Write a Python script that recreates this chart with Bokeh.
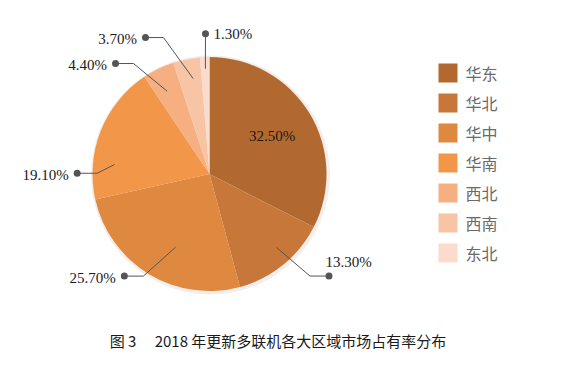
import math
from bokeh.plotting import figure
from bokeh.models import Range1d
from bokeh.core.properties import value
from bokeh.embed import file_html
from bokeh.resources import INLINE

# ---- data ----
regions = ["华东", "华北", "华中", "华南", "西北", "西南", "东北"]
shares = [32.5, 13.3, 25.7, 19.1, 4.4, 3.7, 1.3]
colors = ["#B2692F", "#C8773A", "#DF8840", "#F2974A", "#F5AF80", "#F8C4A6", "#FADBCC"]
title_text = "图 3\u3000 2018 年更新多联机各大区域市场占有率分布"

# ---- layout (image pixel geometry) ----
W, H, PAGE_H = 547, 355, 371
CX, CY_PIX, R = 209.0, 173.5, 117.0
CY = PAGE_H - CY_PIX

# per-slice leader layout: (inner angle offset, inner r factor, elbow angle offset,
#                           elbow r factor, horizontal length, label mode)
LEADER = [
    None,                                   # inside label
    (-3.3, 0.85, -5.5, 1.224, 19, "above"),
    (-6.3, 0.69, 1.8, 1.04, 19, "left"),
    (-16.1, 0.816, -21.4, 0.96, 20, "left"),
    (-1.2, 0.795, -8.6, 1.146, 18, "left"),
    (1.6, 0.828, -7.3, 1.231, 18, "left"),
    (0.1, 0.90, 0.7, 1.20, 0, "right"),
]


def polar(theta_deg, r):
    t = math.radians(theta_deg)
    return CX + r * math.sin(t), CY + r * math.cos(t)


p = figure(width=W, height=H, output_backend="svg", toolbar_location=None,
           x_range=Range1d(0, W), y_range=Range1d(PAGE_H - H, PAGE_H),
           min_border=0, outline_line_color=None, background_fill_color="white",
           border_fill_color="white")
p.axis.visible = False
p.grid.visible = False

# soft shadow
p.circle(x=[CX + 1], y=[CY - 1], radius=R + 2.5, fill_color="#d8cfc6", fill_alpha=0.35,
         line_color=None)

total = sum(shares)
cum = 0.0
starts, ends, mids = [], [], []
for v in shares:
    s = cum / total
    cum += v
    e = cum / total
    starts.append(math.pi / 2 - 2 * math.pi * s)
    ends.append(math.pi / 2 - 2 * math.pi * e)
    mids.append((s + e) / 2 * 360.0)

p.wedge(x=[CX] * len(shares), y=[CY] * len(shares), radius=R,
        start_angle=starts, end_angle=ends, direction="clock",
        fill_color=colors, line_color=None)

serif = value("Liberation Serif")
lxs, lys, dx, dy = [], [], [], []
for i, v in enumerate(shares):
    label = f"{v:.2f}%"
    lay = LEADER[i]
    if lay is None:
        tx, ty = polar(mids[i], R * 0.627)
        p.text(x=[tx], y=[ty], text=[label], text_font=serif, text_font_size="15px",
               text_color="#1a1a1a", text_align="center", text_baseline="middle")
        continue
    ia, ir, ea, er, hl, mode = lay
    x0, y0 = polar(mids[i] + ia, R * ir)
    x1, y1 = polar(mids[i] + ea, R * er)
    side = 1 if math.sin(math.radians(mids[i] + ea)) > 0 else -1
    x2 = x1 + side * hl
    lxs.append([x0, x1, x2])
    lys.append([y0, y1, y1])
    dx.append(x2)
    dy.append(y1)
    if mode == "above":
        p.text(x=[x2 - 3.5], y=[y1 + 14.5], text=[label], text_font=serif,
               text_font_size="15px", text_color="#1a1a1a", text_align="left",
               text_baseline="middle")
    elif mode == "left":
        p.text(x=[x2 - 8.5], y=[y1 - 1.5], text=[label], text_font=serif,
               text_font_size="15px", text_color="#1a1a1a", text_align="right",
               text_baseline="middle")
    else:
        p.text(x=[x2 + 8], y=[y1], text=[label], text_font=serif,
               text_font_size="15px", text_color="#1a1a1a", text_align="left",
               text_baseline="middle")

p.multi_line(xs=lxs, ys=lys, line_color="#555555", line_width=1)
p.scatter(x=dx, y=dy, size=7, fill_color="#555555", line_color=None)

# legend
LEG_X, LEG_Y0, LEG_STEP = 447.5, 72.5, 30.0
for i, name in enumerate(regions):
    yy = PAGE_H - (LEG_Y0 + i * LEG_STEP)
    p.rect(x=[LEG_X], y=[yy], width=19, height=19, fill_color=colors[i], line_color=None)
    p.text(x=[LEG_X + 17.5], y=[yy], text=[name], text_font=value("Noto Sans CJK SC"),
           text_font_size="16px", text_color="#6a6a6a", text_align="left",
           text_baseline="middle")

# caption
p.text(x=[277.5], y=[PAGE_H - 340], text=[title_text], text_font=value("Noto Sans CJK SC"),
       text_font_size="15px", text_color="#1a1a1a", text_align="center",
       text_baseline="middle")

open("out.html", "w").write(file_html(p, INLINE))
